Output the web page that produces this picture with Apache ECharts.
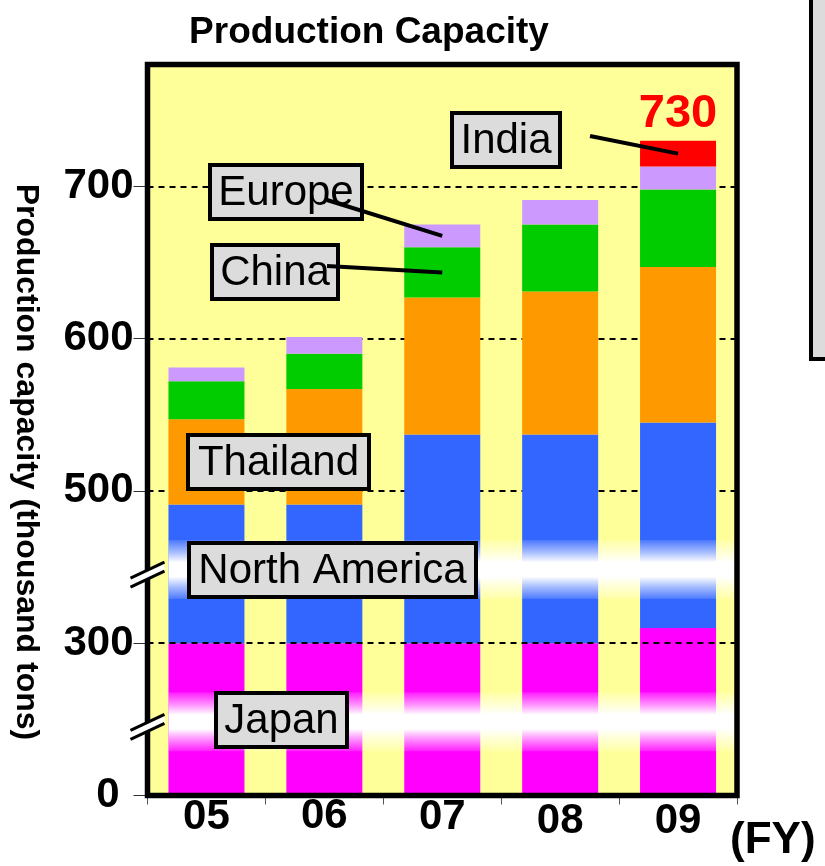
<!DOCTYPE html>
<html>
<head>
<meta charset="utf-8">
<script src="https://cdn.jsdelivr.net/npm/echarts@6/dist/echarts.min.js"></script>
<style>
  html, body { margin: 0; padding: 0; background: #fff; }
  #chart { width: 825px; height: 866px; }
</style>
</head>
<body>
<div id="chart"></div>
<script>
// Fiscal years on the category axis
const categories = ['05', '06', '07', '08', '09'];

// Production capacity by region (thousand tons), stacked bottom to top
const japan        = [300, 300, 300, 300, 310];
const northAmerica = [191, 191, 237, 237, 235];
const thailand     = [56, 76, 90, 94, 102];
const china        = [25, 23, 33, 44, 51];
const europe       = [9, 11, 15, 16, 15];
const india        = [0, 0, 0, 0, 17];

// Value-axis ticks and dashed reference lines
const yTickValues = [0, 300, 500, 600, 700];
const gridLineValues = [300, 500, 600, 700];

// Stretches of the value axis that are collapsed (drawn as "//" breaks)
const axisBreaks = [
  { start: 50, end: 250 },
  { start: 350, end: 450 }
];

const FONT = '"Liberation Sans", Arial, Helvetica, sans-serif';
const GRID = { left: 147.5, top: 64.5, width: 589.5, height: 731 };
const BAR_WIDTH = 76;

const stackSeries = [
  { name: 'Japan',         values: japan,        color: '#FF00FF' },
  { name: 'North America', values: northAmerica, color: '#3366FF' },
  { name: 'Thailand',      values: thailand,     color: '#FF9900' },
  { name: 'China',         values: china,        color: '#00CC00' },
  { name: 'Europe',        values: europe,       color: '#CC99FF' },
  { name: 'India',         values: india,        color: '#FF0000' }
];

const totals = categories.map((_, i) => stackSeries.reduce((s, d) => s + d.values[i], 0));
const lastIdx = categories.length - 1;

// value at the middle of one stacked segment
function segmentMid(seriesName, idx) {
  let base = 0;
  for (const s of stackSeries) {
    if (s.name === seriesName) return base + s.values[idx] / 2;
    base += s.values[idx];
  }
  return base;
}

const chart = echarts.init(document.getElementById('chart'), null, { renderer: 'canvas' });

const xRich = {};
const xPads = [1, 0, 1, 4.5, 4.5];
categories.forEach((c, i) => {
  xRich['c' + i] = {
    fontSize: 42, fontWeight: 'bold', fontFamily: FONT, color: '#000',
    padding: [xPads[i], 0, 0, 0]
  };
});

const yLabelBase = { fontSize: 42, fontWeight: 'bold', fontFamily: FONT, color: '#000' };

const barSeries = stackSeries.map((s, k) => ({
  name: s.name,
  type: 'bar',
  stack: 'capacity',
  barWidth: BAR_WIDTH,
  z: 2,
  itemStyle: { color: s.color },
  data: s.values.slice(),
  label: k === stackSeries.length - 1 ? {
    show: true,
    position: 'top',
    distance: 3,
    formatter: p => (p.dataIndex === lastIdx ? String(totals[p.dataIndex]) : ''),
    color: '#FF0000',
    fontSize: 47,
    fontWeight: 'bold',
    fontFamily: FONT
  } : { show: false }
}));

const refLineStyle = { color: '#000', width: 2, type: [6, 5] };

const option = {
  animation: false,
  backgroundColor: '#fff',
  title: {
    text: 'Production Capacity',
    left: 364,
    top: 9,
    textAlign: 'center',
    textStyle: { fontSize: 37, fontWeight: 'bold', color: '#000', fontFamily: FONT }
  },
  grid: {
    left: GRID.left, top: GRID.top, width: GRID.width, height: GRID.height,
    show: true, backgroundColor: '#FFFF99', borderWidth: 0
  },
  xAxis: {
    type: 'category',
    data: categories,
    axisLine: { show: false },
    axisTick: { show: true, length: 9, lineStyle: { color: '#555', width: 1 } },
    axisLabel: {
      margin: 0,
      formatter: (v, i) => '{c' + i + '|' + v + '}',
      rich: xRich
    },
    splitLine: { show: false }
  },
  yAxis: {
    type: 'value',
    min: 0,
    max: 780,
    interval: 100,
    breaks: axisBreaks.map(b => ({ start: b.start, end: b.end, gap: 0 })),
    breakArea: { show: false },
    axisLine: { show: false },
    axisTick: { show: true, customValues: yTickValues, length: 14, lineStyle: { color: '#333', width: 1 } },
    axisLabel: {
      customValues: yTickValues,
      margin: 14,
      formatter: v => (v === 0 ? '{z|0}' : '{n|' + v + '}'),
      rich: {
        n: Object.assign({}, yLabelBase),
        z: Object.assign({ padding: [0, 14, 0, 0] }, yLabelBase)
      }
    },
    splitLine: { show: false }
  },
  series: [
    // dashed reference lines behind the bars
    {
      type: 'line', data: [], z: 1, silent: true,
      markLine: {
        z: 1, silent: true, symbol: 'none', label: { show: false },
        lineStyle: refLineStyle,
        data: gridLineValues.filter(v => v !== 300).map(v => ({ yAxis: v }))
      }
    },
    ...barSeries,
    // the 300 line sits on top of the bars
    {
      type: 'line', data: [], z: 6, silent: true,
      markLine: {
        z: 6, silent: true, symbol: 'none', label: { show: false },
        lineStyle: refLineStyle,
        data: [{ yAxis: 300 }]
      }
    }
  ]
};

chart.setOption(option);

// ---- overlays positioned through the axes ----
const toPx = (x, y) => chart.convertToPixel({ gridIndex: 0 }, [x, y]);
const yPx = v => chart.convertToPixel({ yAxisIndex: 0 }, v);

const graphics = [];

// soft white bands across the bars at each axis break
const barLeft = toPx(0, 0)[0] - BAR_WIDTH / 2;
const plotRight = GRID.left + GRID.width - 2.5;
const bandGradient = new echarts.graphic.LinearGradient(0, 0, 0, 1, [
  { offset: 0, color: 'rgba(255,255,255,0.12)' },
  { offset: 0.22, color: 'rgba(255,255,255,0.6)' },
  { offset: 0.38, color: 'rgba(255,255,255,1)' },
  { offset: 0.62, color: 'rgba(255,255,255,1)' },
  { offset: 0.78, color: 'rgba(255,255,255,0.6)' },
  { offset: 1, color: 'rgba(255,255,255,0.12)' }
]);
axisBreaks.forEach(b => {
  const cy = yPx(b.start) + 2.5;
  graphics.push({
    type: 'rect', z: 5, silent: true,
    shape: { x: barLeft, y: cy - 29.5, width: plotRight - barLeft, height: 59 },
    style: { fill: bandGradient }
  });
});

// plot frame
graphics.push({
  type: 'rect', z: 8, silent: true,
  shape: { x: GRID.left, y: GRID.top, width: GRID.width, height: GRID.height },
  style: { fill: null, stroke: '#000', lineWidth: 5.5 }
});

// "//" break marks on the value axis
axisBreaks.forEach(b => {
  const cx = GRID.left;
  const cy = yPx(b.start) + 7;
  graphics.push({
    type: 'polygon', z: 9, silent: true,
    shape: { points: [[cx - 17, cy + 4], [cx + 17, cy - 12], [cx + 17, cy - 3], [cx - 17, cy + 13]] },
    style: { fill: '#fff' }
  });
  graphics.push({
    type: 'line', z: 9, silent: true,
    shape: { x1: cx - 17, y1: cy + 4, x2: cx + 17, y2: cy - 12 },
    style: { stroke: '#000', lineWidth: 3 }
  });
  graphics.push({
    type: 'line', z: 9, silent: true,
    shape: { x1: cx - 17, y1: cy + 13, x2: cx + 17, y2: cy - 3 },
    style: { stroke: '#000', lineWidth: 3 }
  });
});

// region call-out boxes
const callouts = [
  { text: 'India',         box: [450, 111, 112, 58] },
  { text: 'Europe',        box: [208, 163, 156, 58] },
  { text: 'China',         box: [210, 243, 130, 58] },
  { text: 'Thailand',      box: [186, 433, 185, 58] },
  { text: 'North America', box: [187, 541, 291, 58] },
  { text: 'Japan',         box: [214, 691, 135, 58] }
];
callouts.forEach(c => {
  const [x, y, w, h] = c.box;
  graphics.push({
    type: 'rect', z: 10, silent: true,
    shape: { x: x + 2, y: y + 2, width: w - 4, height: h - 4 },
    style: { fill: '#DCDCDC', stroke: '#000', lineWidth: 4 }
  });
  graphics.push({
    type: 'text', z: 11, silent: true,
    x: x + w / 2, y: y + h / 2 + 1,
    style: {
      text: c.text, fontSize: 42, fontFamily: FONT, fill: '#000',
      align: 'center', verticalAlign: 'middle'
    }
  });
});

// leader lines from labels to their bar segments
const leaders = [
  { from: [327, 200], series: 'Europe', idx: 2 },
  { from: [327, 266], series: 'China',  idx: 2 },
  { from: [590, 136], series: 'India',  idx: 4 }
];
leaders.forEach(l => {
  const end = toPx(l.idx, segmentMid(l.series, l.idx));
  graphics.push({
    type: 'line', z: 12, silent: true,
    shape: { x1: l.from[0], y1: l.from[1], x2: end[0], y2: end[1] },
    style: { stroke: '#000', lineWidth: 4 }
  });
});

// axis captions
graphics.push({
  type: 'text', z: 11, silent: true,
  x: 26, y: 462, rotation: -Math.PI / 2,
  style: {
    text: 'Production capacity (thousand tons)',
    fontSize: 32, fontWeight: 'bold', fontFamily: FONT, fill: '#000',
    align: 'center', verticalAlign: 'middle'
  }
});
graphics.push({
  type: 'text', z: 11, silent: true,
  x: 730, y: 819,
  style: {
    text: '(FY)', fontSize: 44, fontWeight: 'bold', fontFamily: FONT, fill: '#000',
    align: 'left', verticalAlign: 'top'
  }
});

// neighbouring panel edge on the right
graphics.push({
  type: 'rect', z: 11, silent: true,
  shape: { x: 811, y: -10, width: 40, height: 369 },
  style: { fill: '#DCDCDC', stroke: '#000', lineWidth: 4 }
});

chart.setOption({ graphic: { elements: graphics } });
</script>
</body>
</html>
